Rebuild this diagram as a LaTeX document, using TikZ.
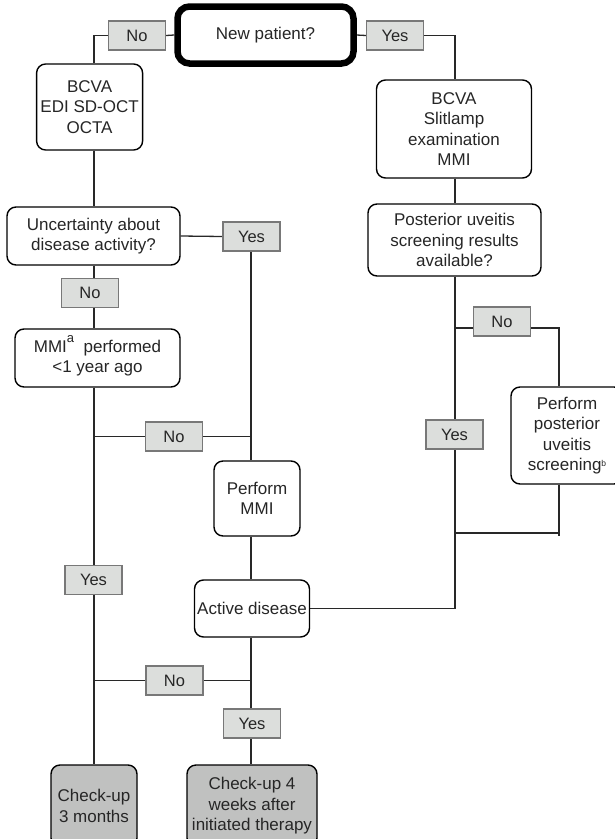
\documentclass[tikz,border=0pt]{standalone}
\usepackage{fontspec}
\setmainfont{Liberation Sans}
\usetikzlibrary{backgrounds}
\definecolor{lblfill}{RGB}{220,222,220}
\definecolor{lblborder}{RGB}{120,120,120}
\definecolor{endfill}{RGB}{192,193,192}
\definecolor{txtcol}{RGB}{38,38,38}
\definecolor{conncol}{RGB}{40,40,40}
\begin{document}
\begin{tikzpicture}[x=1pt,y=-1pt,
  box/.style={draw=black, line width=1.4pt, rounded corners=9pt, align=center, inner sep=0pt, text=txtcol, font=\fontsize{17}{20.5}\selectfont, fill=white},
  endbox/.style={box, fill=endfill},
  lbl/.style={draw=lblborder, fill=lblfill, line width=1.2pt, minimum width=57pt, minimum height=29pt, inner sep=0pt, text=txtcol, font=\fontsize{16.5}{20}\selectfont},
  conn/.style={draw=conncol, line width=1.3pt},
  ]
\useasboundingbox (0,0) rectangle (615,839);
\clip (0,0) rectangle (615,839);
% column coordinates
\coordinate (cL) at (94,0);
\coordinate (cM) at (251,0);
\coordinate (cR) at (455,0);
\coordinate (cRR) at (559,0);
% nodes
\node[box, line width=6.5pt, rounded corners=12pt, minimum width=176pt, minimum height=57pt] (np) at (265.5,35) {New patient?};
\node[lbl] (no1) at (137,35.5) {No};
\node[lbl] (yes1) at (395,35.5) {Yes};
\node[box, minimum width=106pt, minimum height=86pt] (bcvaL) at (89.6,107) {BCVA\\EDI SD-OCT\\OCTA};
\node[box, minimum width=155pt, minimum height=98pt] (bcvaR) at (454,129) {BCVA\\Slitlamp\\examination\\MMI};
\node[box, minimum width=173pt, minimum height=58pt] (unc) at (93.5,236) {Uncertainty about\\disease activity?};
\node[lbl] (yes2) at (251.5,236.5) {Yes};
\node[lbl] (no2) at (90,293) {No};
\node[box, minimum width=165pt, minimum height=58pt] (mmip) at (97.5,358) {MMI\smash{\raisebox{9.5pt}{\fontsize{13}{13}\selectfont a}}\ \ performed\\<1 year ago};
\node[lbl] (no3) at (174,436.5) {No};
\node[box, minimum width=86pt, minimum height=75pt] (pmmi) at (257,498.5) {Perform\\MMI};
\node[lbl] (yes3) at (93.5,580) {Yes};
\node[box, minimum width=115pt, minimum height=57pt] (active) at (252,608.5) {Active disease};
\node[lbl] (no4) at (174.5,680.5) {No};
\node[lbl] (yes4) at (252,723.5) {Yes};
\node[endbox, minimum width=86pt, minimum height=82pt] (chk3) at (94,806) {Check-up\\3 months};
\node[endbox, minimum width=130pt, minimum height=82pt] (chk4) at (252,806) {Check-up 4\\weeks after\\initiated therapy};
\node[box, minimum width=173pt, minimum height=72pt] (post) at (454.5,240) {Posterior uveitis\\screening results\\available?};
\node[lbl] (no5) at (502,321.5) {No};
\node[lbl] (yes5) at (454.5,434.5) {Yes};
\node[box, minimum width=112pt, minimum height=97pt] (pps) at (567,435.5) {Perform\\posterior\\uveitis\\screening\smash{\raisebox{4.5pt}{\fontsize{8.5}{8.5}\selectfont b}}};
% junction coordinates
\coordinate (jN) at (455,328);
\coordinate (jN2) at (559,328);
\coordinate (jY) at (455,533);
\coordinate (jY2) at (559,533);
\coordinate (ppsEnd) at (559,536);
\begin{pgfonlayer}{background}
\draw[conn] (np.west) -- (no1.east);
\draw[conn] (no1.west) -| (bcvaL.north -| cL);
\draw[conn] (np.east) -- (yes1.west);
\draw[conn] (yes1.east) -| (bcvaR.north -| cR);
\draw[conn] (bcvaL.south -| cL) -- (unc.north -| cL);
\draw[conn] (unc.south -| cL) -- (no2.north -| cL);
\draw[conn] (no2.south -| cL) -- (mmip.north -| cL);
\draw[conn] (unc.east) -- (yes2.west);
\draw[conn] (yes2.south -| cM) -- (pmmi.north -| cM);
\draw[conn] (mmip.south -| cL) -- (yes3.north -| cL);
\draw[conn] (no3 -| cL) -- (no3.west);
\draw[conn] (no3.east) -- (no3 -| cM);
\draw[conn] (pmmi.south -| cM) -- (active.north -| cM);
\draw[conn] (yes3.south -| cL) -- (chk3.north -| cL);
\draw[conn] (no4 -| cL) -- (no4.west);
\draw[conn] (no4.east) -- (no4 -| cM);
\draw[conn] (active.south -| cM) -- (yes4.north -| cM);
\draw[conn] (yes4.south -| cM) -- (chk4.north -| cM);
\draw[conn] (bcvaR.south -| cR) -- (post.north -| cR);
\draw[conn] (post.south -| cR) -- (yes5.north -| cR);
\draw[conn] (yes5.south -| cR) |- (active.east);
\draw[conn] (jN) -- (jN2) -- (pps.north -| cRR);
\draw[conn] (pps.south -| cRR) -- (ppsEnd);
\draw[conn] (jY) -- (jY2);
\end{pgfonlayer}
\end{tikzpicture}
\end{document}
